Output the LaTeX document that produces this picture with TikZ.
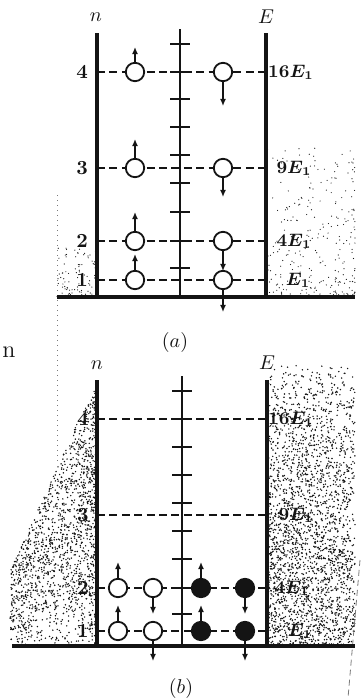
\documentclass[tikz,border=0pt]{standalone}
\usepackage{tikz}
\usetikzlibrary{arrows.meta,positioning,calc}
\definecolor{wellInk}{HTML}{141414}
\definecolor{wellGray}{HTML}{7A7A7A}
\tikzset{
  wall/.style={line width=1.6pt,wellInk},
  midaxis/.style={line width=.9pt,wellInk},
  tickmark/.style={line width=1pt,wellInk},
  levelline/.style={line width=1pt,wellInk,dash pattern=on 4pt off 2.2pt},
  hole/.style={draw=wellInk,circle,fill=white,line width=.9pt,minimum size=9.2pt,inner sep=0pt},
  filled/.style={hole,fill=wellInk},
  spinarrow/.style={-{Latex[length=3.6pt,width=3pt]},line width=.8pt,wellInk},
  nlabel/.style={font=\bfseries,text=wellInk},
  elabel/.style={font=\small\boldmath,text=wellInk},
  stipple/.style={fill=wellInk}
}

\begin{document}
\begin{tikzpicture}[x=.5pt,y=-.5pt]
  \useasboundingbox (0,0) rectangle (360,698);
  \pgfmathsetseed{11}
  % stippled barriers
  \foreach \i in {1,...,1700}{
    \pgfmathsetmacro\dd{87*rnd^1.6}
    \pgfmathsetmacro\yy{646-(266-2.2*\dd)*rnd^0.8}
    \fill[stipple] ({97-\dd},\yy) circle (0.8);
  }
  \foreach \i in {1,...,2600}{
    \pgfmathsetmacro\xx{267+88*rnd}
    \pgfmathsetmacro\yy{365+281*rnd^0.75}
    \fill[stipple] (\xx,\yy) circle (0.8);
  }
  \foreach \i in {1,...,320}{
    \pgfmathsetmacro\xx{355-89*rnd^1.5}
    \pgfmathsetmacro\yy{297-150*rnd^2}
    \fill[stipple] (\xx,\yy) circle (0.6);
  }
  \foreach \i in {1,...,90}{
    \pgfmathsetmacro\xx{97-40*rnd}
    \pgfmathsetmacro\yy{297-50*rnd^1.5}
    \fill[stipple] (\xx,\yy) circle (0.6);
  }
  \draw[wellGray,dotted,line width=.5pt] (57,195) -- (57,462);
  \draw[wellGray,dash pattern=on 3pt off 2pt,line width=.4pt] (360,560) -- (348,698);
  \node[font=\large,text=wellInk] (stray) at (9,352) {n};

  % panel (a)
  \node[text=wellInk] (na) at (96,17) {$n$};
  \node[text=wellInk] (ea) at (266,17) {$E$};
  \foreach \y in {44,72,99,127,155,183,212,241,268}{\draw[tickmark] (170,\y) -- (190,\y);}
  \coordinate (aAtop) at (180,29); \coordinate (aAbot) at (180,297);
  \draw[midaxis] (aAtop) -- (aAbot);
  \foreach \n/\y/\e/\ex in {4/72/16E_1/291,3/168/9E_1/294,2/241/4E_1/294,1/280/E_1/298}{
    \node[nlabel] (an\n) at (82,\y) {\n};
    \node[elabel] (ae\n) at (\ex,\y) {$\e$};
    \coordinate (aw\n) at (97,\y); \coordinate (ar\n) at (266,\y);
    \draw[levelline] (aw\n) -- (ar\n);
    \node[hole] (al\n) at (135,\y) {};
    \node[hole] (aR\n) at (223,\y) {};
  }
  \foreach \n/\u/\d in {4/15/24,3/19/19,2/19/20,1/16/22}{
    \draw[spinarrow] (al\n.north) -- ++(0,-\u) coordinate (alt\n);
    \draw[spinarrow] (aR\n.south) -- ++(0,\d) coordinate (aRt\n);
  }
  \coordinate (aLtop) at (97,33); \coordinate (aLbot) at (97,297);
  \coordinate (aRtop) at (266,33); \coordinate (aRbot) at (266,297);
  \coordinate (aF0) at (57,297); \coordinate (aF1) at (355,297);
  \draw[wall] (aLtop) -- (aLbot);
  \draw[wall] (aRtop) -- (aRbot);
  \draw[wall] (aF0) -- (aF1);
  \node[text=wellInk] (capa) at (175,342) {$(a)$};

  % panel (b)
  \node[text=wellInk] (nb) at (97,365) {$n$};
  \node[text=wellInk] (eb) at (267,363) {$E$};
  \foreach \y in {391,419,447,475,503,531,559,588,614}{\draw[tickmark] (172,\y) -- (192,\y);}
  \coordinate (bAtop) at (182,376); \coordinate (bAbot) at (182,646);
  \draw[midaxis] (bAtop) -- (bAbot);
  \foreach \n/\y/\e/\ex in {4/419/16E_1/291,3/515/9E_1/296,2/588/4E_1/292,1/631/E_1/300}{
    \node[nlabel] (bn\n) at (83,\y) {\n};
    \node[elabel] (be\n) at (\ex,\y) {$\e$};
    \coordinate (bw\n) at (97,\y); \coordinate (br\n) at (267,\y);
    \draw[levelline] (bw\n) -- (br\n);
  }
  \foreach \n/\y in {2/588,1/631}{
    \node[hole] (bo\n) at (118,\y) {};
    \node[hole] (bp\n) at (153,\y) {};
    \node[filled] (bf\n) at (201,\y) {};
    \node[filled] (bg\n) at (245,\y) {};
  }
  \foreach \n/\d in {2/16,1/20}{
    \draw[spinarrow] (bo\n.north) -- ++(0,-16) coordinate (bot\n);
    \draw[spinarrow] (bf\n.north) -- ++(0,-16) coordinate (bft\n);
    \draw[spinarrow] (bp\n.south) -- ++(0,\d) coordinate (bpt\n);
    \draw[spinarrow] (bg\n.south) -- ++(0,\d) coordinate (bgt\n);
  }
  \coordinate (bLtop) at (97,380); \coordinate (bLbot) at (97,646);
  \coordinate (bRtop) at (267,380); \coordinate (bRbot) at (267,646);
  \coordinate (bF0) at (12,646); \coordinate (bF1) at (355,646);
  \draw[wall] (bLtop) -- (bLbot);
  \draw[wall] (bRtop) -- (bRbot);
  \draw[wall] (bF0) -- (bF1);
  \node[text=wellInk] (capb) at (181,688) {$(b)$};
\end{tikzpicture}
\end{document}
